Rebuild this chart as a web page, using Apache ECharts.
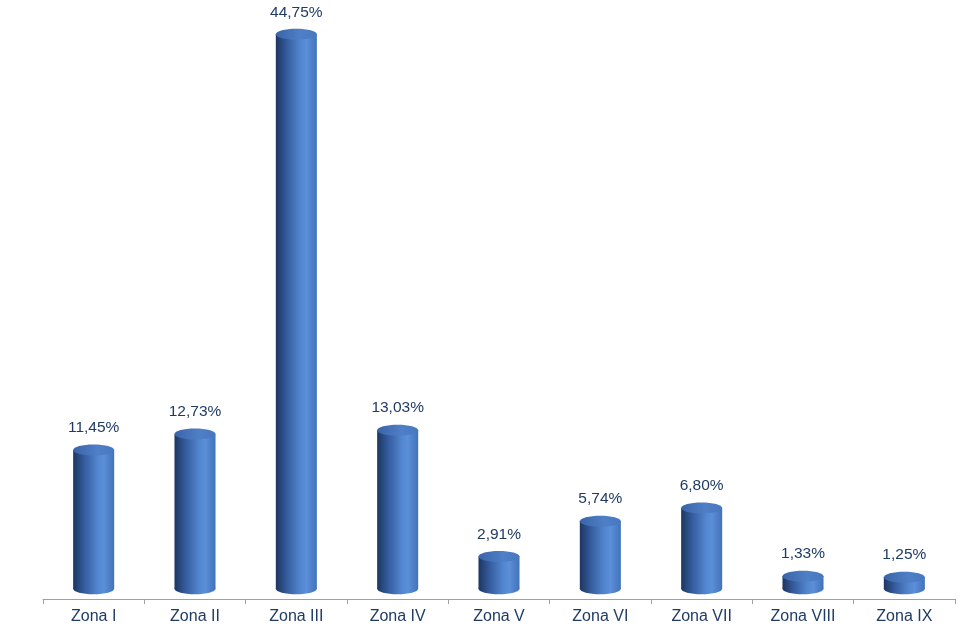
<!DOCTYPE html>
<html>
<head>
<meta charset="utf-8">
<script src="https://cdn.jsdelivr.net/npm/echarts@6/dist/echarts.min.js"></script>
<style>
html,body{margin:0;padding:0;background:#fff;}
#chart{width:967px;height:627px;}
</style>
</head>
<body>
<div id="chart"></div>
<script>
var categories = ['Zona I','Zona II','Zona III','Zona IV','Zona V','Zona VI','Zona VII','Zona VIII','Zona IX'];
var values = [11.45, 12.73, 44.75, 13.03, 2.91, 5.74, 6.80, 1.33, 1.25];

var chart = echarts.init(document.getElementById('chart'));
var textColor = '#1f3b64';
function fmt(v){ return v.toFixed(2).replace('.', ',') + '%'; }

var bodyGrad = new echarts.graphic.LinearGradient(0,0,1,0,[
  {offset:0, color:'#1d3660'},
  {offset:0.25, color:'#33599a'},
  {offset:0.6, color:'#5286d0'},
  {offset:0.75, color:'#5b8fd8'},
  {offset:1, color:'#4272ba'}
]);
var topGrad = new echarts.graphic.LinearGradient(0,0,1,0,[
  {offset:0, color:'#3a64a8'},
  {offset:0.6, color:'#4f7fc6'},
  {offset:1, color:'#4877bf'}
]);

chart.setOption({
  animation:false,
  grid:{left:43, right:12, top:20, bottom:28},
  xAxis:{
    type:'category',
    data:categories,
    axisLine:{onZero:false, lineStyle:{color:'#a0a0a0', width:1}},
    axisTick:{show:true, length:5, lineStyle:{color:'#a0a0a0'}},
    axisLabel:{color:textColor, fontSize:16, fontFamily:'Liberation Sans, Arial, sans-serif', margin:10}
  },
  yAxis:{
    type:'value', min:-0.5, max:45.9, show:false,
    splitLine:{show:false}
  },
  series:[{
    type:'custom',
    data:values.map(function(v,i){return [i,v];}),
    renderItem:function(params, api){
      var i = api.value(0), v = api.value(1);
      var top = api.coord([i, v]);
      var base = api.coord([i, 0]);
      var w = api.size([1,0])[0]*0.405;
      var cx = top[0];
      var rx = w/2, ry = 5.5;
      var yb = base[1] - 4;
      var yt = top[1];
      return {
        type:'group',
        children:[
          {type:'rect', shape:{x:cx-rx, y:yt, width:w, height:yb-yt}, style:{fill:bodyGrad}},
          {type:'ellipse', shape:{cx:cx, cy:yb, rx:rx, ry:ry}, style:{fill:bodyGrad}},
          {type:'ellipse', shape:{cx:cx, cy:yt, rx:rx, ry:ry}, style:{fill:topGrad}},
          {type:'text', style:{text:fmt(v), x:cx, y:yt-22, align:'center', verticalAlign:'middle',
            fill:textColor, fontSize:15.5, fontFamily:'Liberation Sans, Arial, sans-serif'}}
        ]
      };
    }
  }]
});
</script>
</body>
</html>
